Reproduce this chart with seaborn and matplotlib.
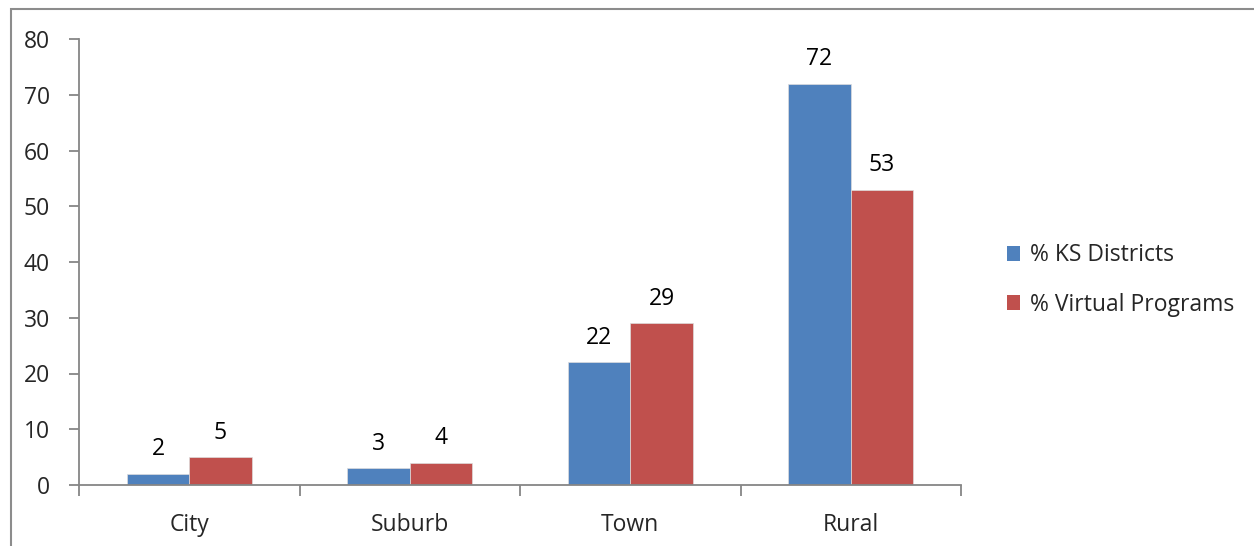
import pandas as pd
import matplotlib.pyplot as plt
import seaborn as sns
from matplotlib.patches import Rectangle, Patch

# data
categories = ['City', 'Suburb', 'Town', 'Rural']
ks_districts = [2, 3, 22, 72]
virtual_programs = [5, 4, 29, 53]
series_names = ['% KS Districts', '% Virtual Programs']

df = pd.DataFrame({
    'area': categories * 2,
    'value': ks_districts + virtual_programs,
    'series': [series_names[0]] * 4 + [series_names[1]] * 4,
})

sns.set_theme(style='white')
plt.rcParams['font.family'] = ['Open Sans', 'DejaVu Sans']

colors = ['#4F81BD', '#C0504D']
grey = '#868686'
fs = 16.5

fig = plt.figure(figsize=(12.54, 5.46), dpi=100)
ax = fig.add_axes([79 / 1254, 61 / 546, (961 - 79) / 1254, (485 - 39) / 546])

sns.barplot(data=df, x='area', y='value', hue='series', palette=colors,
            width=0.567, gap=0, saturation=1, ax=ax, legend=False,
            edgecolor='#dddddd', linewidth=0.5)

for cont in ax.containers:
    ax.bar_label(cont, padding=9, fontsize=fs, color='black')

ax.set_ylim(0, 80)
ax.set_yticks(range(0, 81, 10))
ax.set_xlim(-0.5, 3.5)
ax.set_xlabel('')
ax.set_ylabel('')
ax.set_xticks([-0.5, 0.5, 1.5, 2.5, 3.5], minor=False)
ax.set_xticklabels([])
ax.set_xticks(range(4), minor=True)
ax.set_xticklabels(categories, minor=True)
ax.tick_params(axis='x', which='major', direction='out', length=8, width=1.3, color=grey, bottom=True)
ax.tick_params(axis='x', which='minor', length=0, labelsize=fs, pad=20)
ax.tick_params(axis='y', direction='out', length=7, width=1.3, color=grey, left=True, labelsize=fs, pad=14)

for s in ['top', 'right']:
    ax.spines[s].set_visible(False)
for s in ['left', 'bottom']:
    ax.spines[s].set_color(grey)
    ax.spines[s].set_linewidth(1.3)

handles = [Patch(facecolor=c, edgecolor='none') for c in colors]
fig.legend(handles, series_names, loc='center left', bbox_to_anchor=(986 / 1254, 1 - 280 / 546),
           frameon=False, fontsize=fs, handlelength=0.6, handleheight=0.6,
           handletextpad=0.4, labelspacing=1.1)

fig.patches.append(Rectangle((11 / 1254, -0.1), 1.2, 1 - 9 / 546 + 0.1, transform=fig.transFigure,
                             fill=False, edgecolor='#8c8c8c', linewidth=1.5))

fig.savefig('out.png', dpi=100)
